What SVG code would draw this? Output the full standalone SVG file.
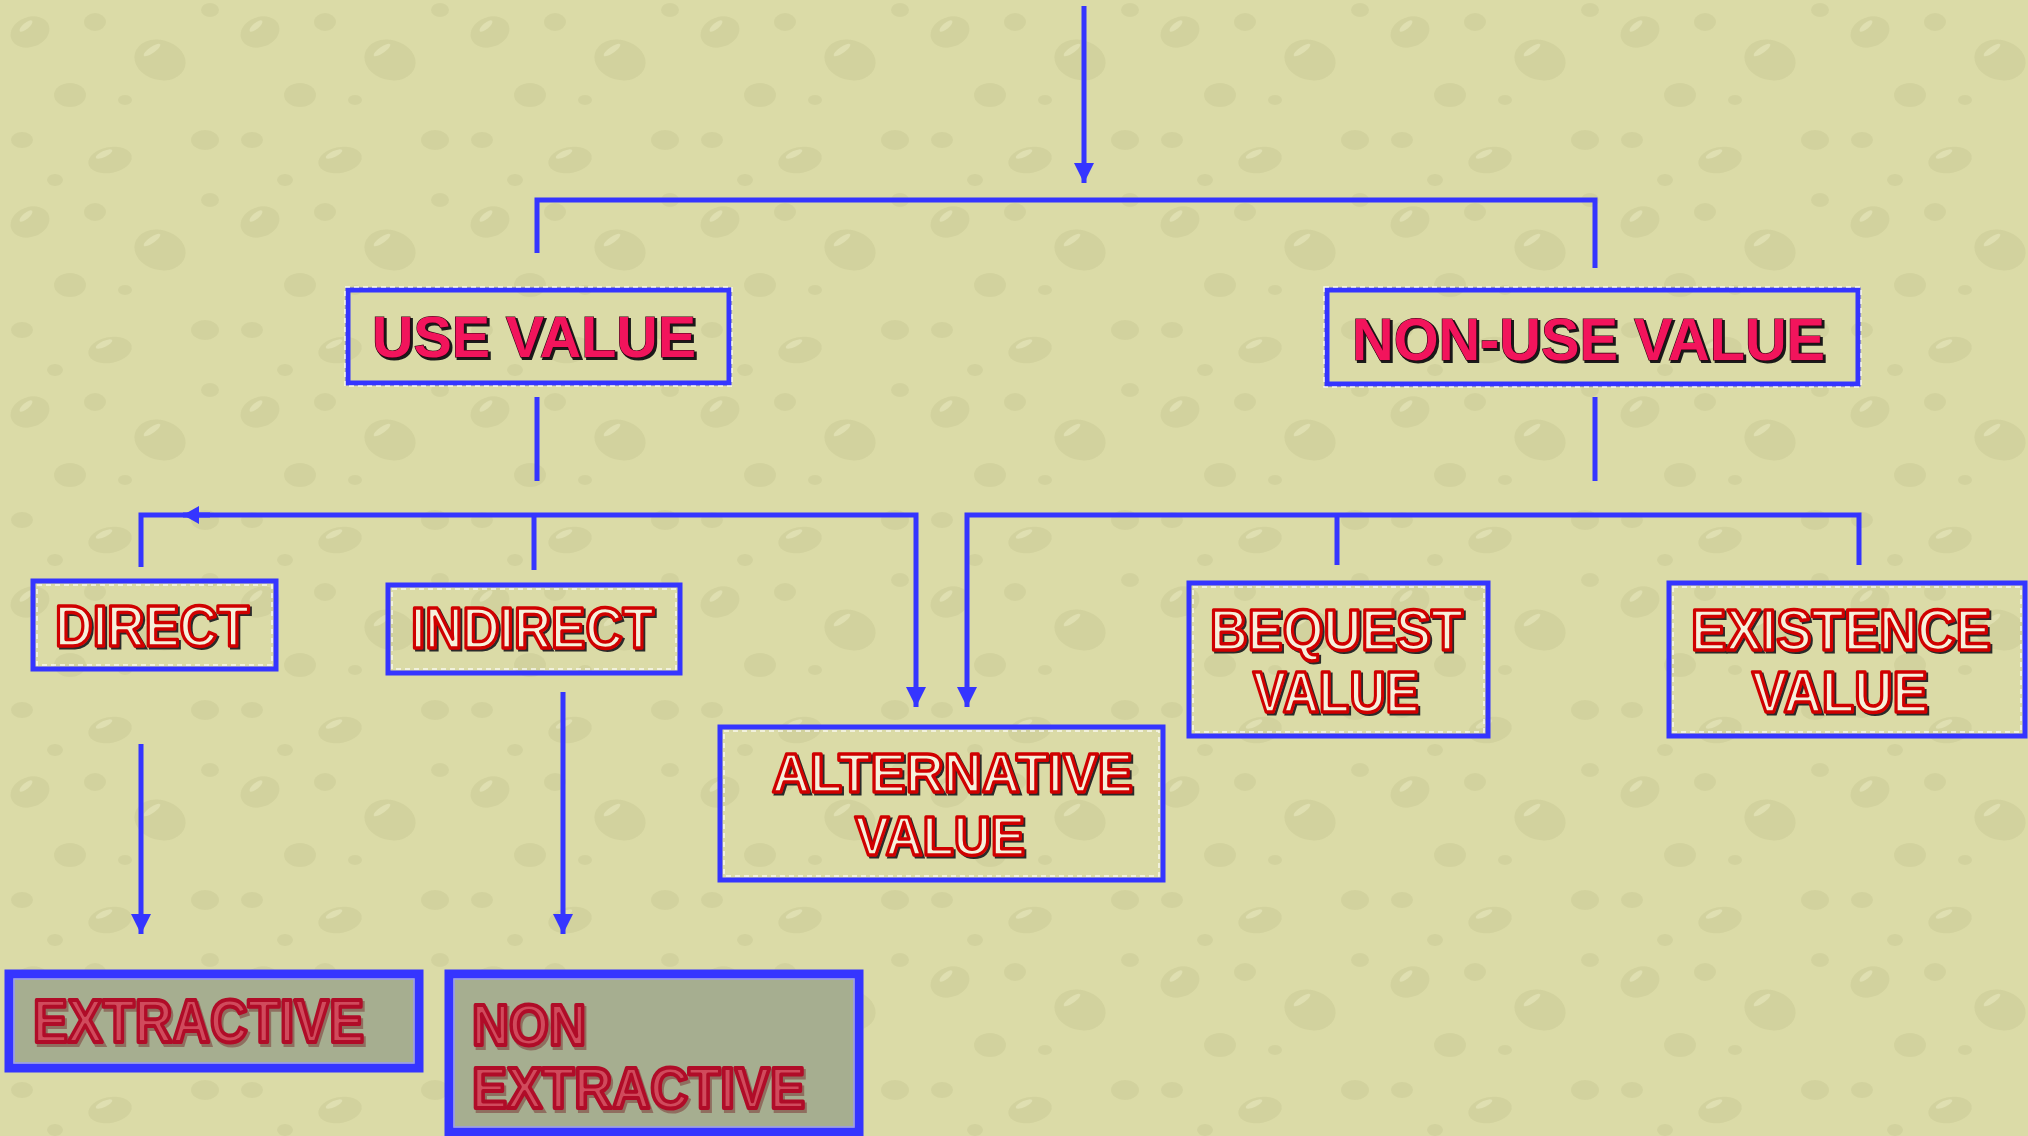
<svg xmlns="http://www.w3.org/2000/svg" width="2028" height="1136" viewBox="0 0 2028 1136">
<defs>
<style>
.conn{fill:none;stroke:#3535ff;stroke-width:5;stroke-linecap:butt}
.box{fill:none;stroke:#3535ff;stroke-width:5}
.dash{fill:none;stroke:#ffffff;stroke-width:1.5;stroke-dasharray:5 4;opacity:0.8}
.gbox{fill:#a6ae90;stroke:#3535ff;stroke-width:9}
.gin{fill:none;stroke:#9a9cf0;stroke-width:1.5}
.t{font-family:"Liberation Sans",Arial,sans-serif;font-weight:bold}
.shadow{fill:#1a1a1a;stroke:#1a1a1a;stroke-width:2}
.pink{fill:#f2145c;stroke:#300010;stroke-width:1.2;paint-order:stroke}
.outl{fill:#f6f0dc;stroke:#d00000;stroke-width:3.5;stroke-linejoin:round}
.oshadow{fill:none;stroke:#2a2a2a;stroke-width:3}
.ext{fill:#d04a5c;stroke:#b00c28;stroke-width:4;stroke-linejoin:round}
.eshadow{fill:#7a3030;stroke:#7a3030;stroke-width:4;opacity:0.5}
.d{fill:#c7c793;opacity:0.45}
.h{fill:#ececc4;opacity:0.5}
</style>
<marker id="ah" viewBox="0 0 20 20" refX="20" refY="10" markerWidth="20" markerHeight="20" markerUnits="userSpaceOnUse" orient="auto">
<path d="M0,0 L20,10 L0,20 z" fill="#3535ff"/>
</marker>
<marker id="ahs" viewBox="0 0 16 18" refX="16" refY="9" markerWidth="16" markerHeight="18" markerUnits="userSpaceOnUse" orient="auto">
<path d="M0,0 L16,9 L0,18 z" fill="#3535ff"/>
</marker>
<pattern id="drops" width="230" height="190" patternUnits="userSpaceOnUse">
<rect width="230" height="190" fill="#dbdba7"/>
<ellipse class="d" cx="30" cy="32" rx="20" ry="15" transform="rotate(-20 30 32)"/>
<ellipse class="h" cx="26" cy="26" rx="8" ry="3" transform="rotate(-40 26 26)"/>
<ellipse class="d" cx="95" cy="22" rx="11" ry="9"/>
<ellipse class="d" cx="160" cy="60" rx="26" ry="20" transform="rotate(15 160 60)"/>
<ellipse class="h" cx="152" cy="50" rx="10" ry="3" transform="rotate(-35 152 50)"/>
<ellipse class="d" cx="70" cy="95" rx="16" ry="12"/>
<ellipse class="d" cx="22" cy="140" rx="11" ry="8"/>
<ellipse class="d" cx="110" cy="160" rx="22" ry="13" transform="rotate(-10 110 160)"/>
<ellipse class="h" cx="104" cy="154" rx="9" ry="3" transform="rotate(-25 104 154)"/>
<ellipse class="d" cx="205" cy="140" rx="14" ry="10"/>
<ellipse class="d" cx="125" cy="100" rx="7" ry="5"/>
<ellipse class="d" cx="210" cy="10" rx="9" ry="7"/>
<ellipse class="d" cx="55" cy="180" rx="8" ry="6"/>
</pattern>
</defs>
<rect width="2028" height="1136" fill="url(#drops)"/>

<g id="connectors">
<path class="conn" d="M1084,6 V183" marker-end="url(#ah)"/>
<path class="conn" d="M537,253 V200 H1595 V268"/>
<path class="conn" d="M537,397 V481"/>
<path class="conn" d="M1595,397 V481"/>
<path class="conn" d="M141,567 V515 H916 V707" marker-end="url(#ah)"/>
<path class="conn" d="M534,515 V570"/>
<path class="conn" d="M210,515 H183" marker-end="url(#ahs)"/>
<path class="conn" d="M1859,565 V515 H967 V707" marker-end="url(#ah)"/>
<path class="conn" d="M1337,515 V565"/>
<path class="conn" d="M141,744 V934" marker-end="url(#ah)"/>
<path class="conn" d="M563,692 V934" marker-end="url(#ah)"/>
</g>

<g id="use-value">
<rect class="box" x="348" y="290" width="381" height="93"/>
<rect class="dash" x="345" y="287" width="387" height="99"/>
<text class="t shadow" x="374" y="359" font-size="58" textLength="324" lengthAdjust="spacingAndGlyphs">USE VALUE</text>
<text class="t pink" x="372" y="357" font-size="58" textLength="324" lengthAdjust="spacingAndGlyphs">USE VALUE</text>
</g>

<g id="non-use-value">
<rect class="box" x="1327" y="290" width="531" height="94"/>
<rect class="dash" x="1324" y="287" width="537" height="100"/>
<text class="t shadow" x="1354" y="362" font-size="59" textLength="473" lengthAdjust="spacingAndGlyphs">NON-USE VALUE</text>
<text class="t pink" x="1352" y="360" font-size="59" textLength="473" lengthAdjust="spacingAndGlyphs">NON-USE VALUE</text>
</g>

<g id="direct">
<rect class="box" x="33" y="581" width="243" height="88"/>
<rect class="dash" x="37" y="585" width="235" height="80"/>
<text class="t oshadow" x="57" y="648" font-size="57" textLength="194" lengthAdjust="spacingAndGlyphs">DIRECT</text>
<text class="t outl" x="55" y="646" font-size="57" textLength="194" lengthAdjust="spacingAndGlyphs">DIRECT</text>
</g>

<g id="indirect">
<rect class="box" x="388" y="585" width="292" height="88"/>
<rect class="dash" x="392" y="589" width="284" height="80"/>
<text class="t oshadow" x="413" y="650" font-size="57" textLength="243" lengthAdjust="spacingAndGlyphs">INDIRECT</text>
<text class="t outl" x="411" y="648" font-size="57" textLength="243" lengthAdjust="spacingAndGlyphs">INDIRECT</text>
</g>

<g id="alternative-value">
<rect class="box" x="720" y="727" width="443" height="153"/>
<rect class="dash" x="724" y="731" width="435" height="145"/>
<text class="t oshadow" x="774" y="794" font-size="56" textLength="361" lengthAdjust="spacingAndGlyphs">ALTERNATIVE</text>
<text class="t outl" x="772" y="792" font-size="56" textLength="361" lengthAdjust="spacingAndGlyphs">ALTERNATIVE</text>
<text class="t oshadow" x="857" y="857" font-size="56" textLength="170" lengthAdjust="spacingAndGlyphs">VALUE</text>
<text class="t outl" x="855" y="855" font-size="56" textLength="170" lengthAdjust="spacingAndGlyphs">VALUE</text>
</g>

<g id="bequest-value">
<rect class="box" x="1189" y="583" width="299" height="153"/>
<rect class="dash" x="1193" y="587" width="291" height="145"/>
<text class="t oshadow" x="1212" y="652" font-size="58" textLength="253" lengthAdjust="spacingAndGlyphs">BEQUEST</text>
<text class="t outl" x="1210" y="650" font-size="58" textLength="253" lengthAdjust="spacingAndGlyphs">BEQUEST</text>
<text class="t oshadow" x="1255" y="714" font-size="58" textLength="166" lengthAdjust="spacingAndGlyphs">VALUE</text>
<text class="t outl" x="1253" y="712" font-size="58" textLength="166" lengthAdjust="spacingAndGlyphs">VALUE</text>
</g>

<g id="existence-value">
<rect class="box" x="1669" y="583" width="356" height="153"/>
<rect class="dash" x="1673" y="587" width="348" height="145"/>
<text class="t oshadow" x="1693" y="652" font-size="58" textLength="300" lengthAdjust="spacingAndGlyphs">EXISTENCE</text>
<text class="t outl" x="1691" y="650" font-size="58" textLength="300" lengthAdjust="spacingAndGlyphs">EXISTENCE</text>
<text class="t oshadow" x="1754" y="714" font-size="58" textLength="176" lengthAdjust="spacingAndGlyphs">VALUE</text>
<text class="t outl" x="1752" y="712" font-size="58" textLength="176" lengthAdjust="spacingAndGlyphs">VALUE</text>
</g>

<g id="extractive">
<rect class="gbox" x="9" y="974" width="410" height="94"/>
<rect class="gin" x="14" y="979" width="400" height="84"/>
<text class="t eshadow" x="35" y="1045" font-size="62" textLength="331" lengthAdjust="spacingAndGlyphs">EXTRACTIVE</text>
<text class="t ext" x="33" y="1042" font-size="62" textLength="331" lengthAdjust="spacingAndGlyphs">EXTRACTIVE</text>
</g>

<g id="non-extractive">
<rect class="gbox" x="449" y="974" width="410" height="158"/>
<rect class="gin" x="454" y="979" width="400" height="148"/>
<text class="t eshadow" x="474" y="1048" font-size="58" textLength="114" lengthAdjust="spacingAndGlyphs">NON</text>
<text class="t ext" x="472" y="1045" font-size="58" textLength="114" lengthAdjust="spacingAndGlyphs">NON</text>
<text class="t eshadow" x="474" y="1111" font-size="58" textLength="333" lengthAdjust="spacingAndGlyphs">EXTRACTIVE</text>
<text class="t ext" x="472" y="1108" font-size="58" textLength="333" lengthAdjust="spacingAndGlyphs">EXTRACTIVE</text>
</g>
</svg>
